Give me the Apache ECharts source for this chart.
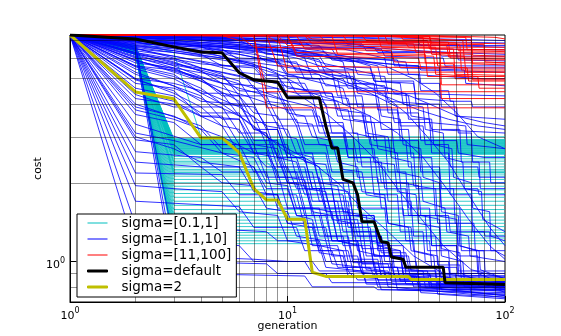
<!DOCTYPE html>
<html>
<head>
<meta charset="utf-8">
<script src="https://cdn.jsdelivr.net/npm/echarts@6/dist/echarts.min.js"></script>
<style>
html, body { margin: 0; padding: 0; background: #fff; }
#chart { width: 561px; height: 336px; }
</style>
</head>
<body>
<div id="chart"></div>
<script>
// Best cost found so far versus generation, one line per optimizer run.
// Every run starts from the same initial cost at generation 1.
const START_COST = 7.35;

const xGridValues = [2, 3, 4, 5, 6, 7, 8, 9, 10, 20, 30, 40, 50, 60, 70, 80, 90];
const yGridValues = [0.8, 0.9, 1, 2, 3, 4, 5, 6, 7];

const NAME_SMALL = 'sigma=[0.1,1]';
const NAME_MID = 'sigma=[1.1,10]';
const NAME_LARGE = 'sigma=[11,100]';
const NAME_DEFAULT = 'sigma=default';
const NAME_TWO = 'sigma=2';

// sigma in [0.1,1]: cost at generation 2, then the plateau reached at generation 3
const smallSigmaDrops = [
  [6.7, 2.93], [6.69, 2.915], [6.68, 2.9], [6.67, 2.885], [6.66, 2.87], [6.65, 2.855],
  [6.64, 2.84], [6.63, 2.825], [6.62, 2.81], [6.61, 2.795], [6.6, 2.78], [6.59, 2.765],
  [6.58, 2.75], [6.57, 2.735], [6.56, 2.72], [6.55, 2.705], [6.54, 2.69], [6.53, 2.675],
  [6.52, 2.66], [6.51, 2.645], [6.5, 2.63], [6.49, 2.615], [6.48, 2.6], [6.47, 2.585],
  [6.46, 2.57], [6.44, 2.52], [6.42, 2.47], [6.4, 2.42], [6.38, 2.36], [6.36, 2.3],
  [6.35, 2.25], [6.34, 2.22], [6.33, 2.19], [6.32, 2.16], [6.3, 2.12], [6.3, 2.06],
  [6.28, 2.0], [6.28, 1.94], [6.26, 1.88], [6.26, 1.82], [6.24, 1.76], [6.24, 1.7],
  [6.22, 1.64], [6.22, 1.58], [6.22, 1.53], [6.2, 1.48], [6.2, 1.44], [6.2, 1.4],
  [6.2, 1.36], [6.2, 1.32], [6.2, 1.29], [6.2, 1.26], [6.2, 1.23], [6.2, 1.2], [6.2, 1.17]
];
// sigma in [0.1,1]: runs with a later step
const smallSigmaRuns = [
  [[2, 6.95], [3, 6.3], [4, 3.0], [100, 3.0]],
  [[2, 6.6], [3, 2.95], [5, 2.95], [6, 2.6], [100, 2.6]],
  [[2, 6.5], [3, 2.4], [8, 2.4], [9, 2.2], [100, 2.2]]
];

// sigma in [1.1,10]
const midSigmaRuns = [
  [[3,7.3],[10,7.25],[30,7.1],[31,6.95],[60,6.9],[100,6.85]],
  [[2,7.2],[5,7.0],[12,6.9],[13,6.6],[25,6.6],[26,6.3],[50,6.3],[51,6.1],[100,6.1]],
  [[2,7.0],[4,6.8],[8,6.5],[15,6.3],[16,5.9],[40,5.6],[41,5.4],[100,5.3]],
  [[2,7.3],[6,7.1],[14,6.7],[15,6.2],[35,5.8],[36,5.2],[80,5.0],[100,5.0]],
  [[2,6.9],[3,6.6],[7,6.3],[8,5.8],[11,5.8],[12,5.0],[18,5.0],[19,4.6],[30,4.6],[31,4.4],[100,4.3]],
  [[4,7.2],[9,6.9],[18,6.5],[28,6.0],[29,5.2],[40,5.2],[41,4.5],[55,4.5],[56,4.1],[70,4.1],[71,3.9],[100,3.9]],
  [[2,7.1],[5,6.5],[6,5.9],[9,5.9],[10,5.2],[14,5.2],[15,4.7],[20,4.7],[21,3.9],[30,3.9],[31,3.4],[45,3.4],[46,3.2],[100,3.1]],
  [[3,7.2],[7,6.8],[13,6.1],[14,5.4],[20,5.4],[21,4.5],[28,4.5],[29,3.7],[40,3.7],[41,2.9],[60,2.9],[61,2.6],[80,2.5],[100,2.5]],
  [[2,6.7],[4,6.2],[5,5.6],[7,5.6],[8,5.0],[10,5.0],[11,4.4],[16,4.4],[17,3.6],[24,3.6],[25,2.9],[35,2.9],[36,2.3],[50,2.3],[51,1.9],[75,1.9],[76,1.8],[100,1.8]],
  [[2,6.4],[3,6.1],[6,5.5],[7,4.6],[9,4.6],[10,3.8],[13,3.8],[14,3.1],[18,3.1],[19,2.5],[26,2.5],[27,2.0],[36,2.0],[37,1.5],[55,1.5],[56,1.3],[80,1.3],[81,1.25],[100,1.25]],
  [[2,6.2],[3,5.9],[5,5.2],[6,4.3],[8,4.3],[9,3.5],[11,3.5],[12,2.8],[15,2.8],[16,2.2],[20,2.2],[21,1.6],[28,1.6],[29,1.2],[38,1.2],[39,0.95],[55,0.95],[56,0.86],[100,0.84]],
  [[2,5.9],[4,5.0],[5,4.3],[6,4.3],[7,3.4],[9,3.4],[10,2.6],[13,2.6],[14,2.0],[18,2.0],[19,1.5],[25,1.5],[26,1.15],[34,1.15],[35,0.92],[48,0.92],[49,0.82],[70,0.82],[71,0.8],[100,0.8]],
  [[2,5.6],[3,5.2],[4,4.4],[5,4.4],[6,3.6],[7,3.6],[8,2.8],[10,2.8],[11,2.1],[14,2.1],[15,1.6],[19,1.6],[20,1.2],[26,1.2],[27,0.95],[36,0.95],[37,0.84],[50,0.84],[51,0.78],[100,0.78]],
  [[2,5.3],[4,4.3],[5,3.5],[6,3.5],[7,2.6],[9,2.6],[10,2.0],[12,2.0],[13,1.5],[17,1.5],[18,1.15],[24,1.15],[25,0.95],[32,0.95],[33,0.85],[45,0.85],[46,0.82],[100,0.82]],
  [[2,4.95],[3,4.5],[4,3.6],[5,3.6],[6,2.8],[8,2.8],[9,2.1],[11,2.1],[12,1.6],[15,1.6],[16,1.2],[21,1.2],[22,0.98],[30,0.98],[31,0.88],[40,0.88],[41,0.86],[100,0.86]],
  [[2,4.6],[3,4.3],[4,3.7],[6,3.7],[7,2.9],[9,2.9],[10,2.2],[13,2.2],[14,1.7],[19,1.7],[20,1.25],[27,1.25],[28,1.0],[39,1.0],[40,0.86],[64,0.86],[65,0.8],[100,0.79]],
  [[2,4.35],[3,3.9],[5,3.9],[6,3.1],[8,3.1],[9,2.3],[12,2.3],[13,1.7],[17,1.7],[18,1.3],[24,1.3],[25,1.05],[34,1.05],[35,0.9],[59,0.9],[60,0.82],[100,0.81]],
  [[2,4.0],[4,3.3],[5,2.7],[8,2.7],[9,2.0],[11,2.0],[12,1.5],[15,1.5],[16,1.2],[21,1.2],[22,0.98],[29,0.98],[30,0.87],[44,0.87],[45,0.8],[100,0.77]],
  [[2,3.65],[3,3.4],[4,2.8],[7,2.8],[8,2.1],[10,2.1],[11,1.6],[14,1.6],[15,1.25],[19,1.25],[20,1.02],[26,1.02],[27,0.88],[39,0.88],[40,0.8],[100,0.74]],
  [[2,3.35],[4,2.8],[6,2.8],[7,2.2],[9,2.2],[10,1.6],[13,1.6],[14,1.25],[18,1.25],[19,1.0],[25,1.0],[26,0.87],[37,0.87],[38,0.8],[69,0.8],[70,0.75],[100,0.75]],
  [[2,2.92],[3,2.8],[4,2.3],[7,2.3],[8,1.8],[11,1.8],[12,1.35],[15,1.35],[16,1.05],[21,1.05],[22,0.9],[34,0.9],[35,0.82],[100,0.8]],
  [[2,2.63],[4,2.5],[5,2.2],[8,2.2],[9,1.6],[12,1.6],[13,1.15],[17,1.15],[18,0.95],[25,0.95],[26,0.85],[49,0.85],[50,0.8],[100,0.79]],
  [[2,2.18],[5,2.15],[6,1.8],[9,1.8],[10,1.4],[13,1.4],[14,1.1],[19,1.1],[20,0.92],[29,0.92],[30,0.84],[100,0.83]],
  [[2,1.7],[6,1.62],[7,1.35],[11,1.35],[12,1.1],[16,1.1],[17,0.95],[24,0.95],[25,0.87],[100,0.85]],
  [[2,1.38],[8,1.3],[9,1.2],[14,1.2],[15,1.0],[21,1.0],[22,0.9],[100,0.88]],
  [[2,1.11],[3,1.05],[7,1.02],[10,1.0],[13,1.0],[14,0.92],[19,0.92],[20,0.88],[100,0.87]],
  [[2,6.6],[3,1.2],[6,1.15],[7,1.0],[12,1.0],[13,0.9],[20,0.9],[21,0.85],[100,0.85]],
  [[2,6.8],[3,1.0],[8,0.98],[9,0.9],[15,0.9],[16,0.83],[30,0.83],[31,0.82],[100,0.82]],
  [[2,6.45],[3,0.9],[12,0.88],[13,0.8],[25,0.8],[26,0.78],[100,0.78]],
  [[2,7.2],[4,7.0],[8,6.6],[12,6.0],[13,5.0],[17,5.0],[18,4.0],[22,4.0],[23,3.0],[28,3.0],[29,2.2],[35,2.2],[36,1.6],[45,1.6],[46,1.15],[60,1.15],[61,0.9],[80,0.9],[81,0.83],[100,0.83]],
  [[3,7.1],[7,6.8],[12,6.4],[18,5.8],[19,4.8],[25,4.8],[26,3.8],[32,3.8],[33,2.9],[40,2.9],[41,2.2],[50,2.2],[51,1.6],[62,1.6],[63,1.1],[80,1.1],[81,0.92],[100,0.92]],
  [[2,7.0],[5,6.6],[10,6.1],[11,5.3],[16,5.3],[17,4.3],[22,4.3],[23,3.4],[30,3.4],[31,2.6],[38,2.6],[39,1.9],[48,1.9],[49,1.4],[60,1.4],[61,1.05],[75,1.05],[76,0.86],[100,0.86]],
  [[2,6.9],[4,6.4],[6,5.8],[9,5.2],[10,4.3],[13,4.3],[14,3.3],[18,3.3],[19,2.5],[24,2.5],[25,1.8],[32,1.8],[33,1.3],[42,1.3],[43,1.0],[55,1.0],[56,0.85],[75,0.85],[76,0.8],[100,0.8]],
  [[2,7.25],[3,7.0],[6,6.7],[10,6.3],[15,5.7],[25,5.2],[26,4.4],[35,4.4],[36,3.5],[45,3.5],[46,2.6],[55,2.6],[56,1.8],[70,1.8],[71,1.3],[85,1.3],[86,1.1],[100,1.1]],
  [[2,6.3],[3,5.8],[5,5.0],[7,4.6],[10,4.1],[11,3.6],[14,3.6],[15,3.0],[20,3.0],[21,2.4],[27,2.4],[28,1.9],[35,1.9],[36,1.5],[45,1.5],[46,1.15],[60,1.15],[61,0.92],[80,0.92],[81,0.85],[100,0.85]],
  [[2,6.0],[4,5.4],[6,4.9],[7,4.0],[8,4.0],[9,3.3],[11,3.3],[12,2.6],[15,2.6],[16,2.0],[19,2.0],[20,1.5],[25,1.5],[26,1.1],[33,1.1],[34,0.9],[45,0.9],[46,0.8],[100,0.78]],
  [[2,5.6],[3,5.4],[5,4.8],[6,4.0],[7,4.0],[8,3.2],[9,3.2],[10,2.5],[12,2.5],[13,1.9],[16,1.9],[17,1.4],[22,1.4],[23,1.05],[30,1.05],[31,0.88],[40,0.88],[41,0.8],[100,0.8]],
  [[2,5.0],[3,4.8],[4,4.5],[6,3.9],[8,3.3],[9,2.5],[11,2.5],[12,2.0],[14,2.0],[15,1.6],[18,1.6],[19,1.2],[24,1.2],[25,0.95],[32,0.95],[33,0.84],[50,0.84],[51,0.82],[100,0.82]],
  [[2,7.3],[5,7.2],[12,7.0],[20,6.8],[30,6.3],[31,5.6],[40,5.6],[41,4.8],[50,4.8],[51,3.9],[60,3.9],[61,3.1],[70,3.1],[71,2.4],[85,2.4],[86,2.0],[100,2.0]],
  [[2,7.15],[4,6.9],[9,6.6],[16,6.1],[26,5.6],[27,4.9],[38,4.9],[39,4.0],[50,4.0],[51,3.2],[62,3.2],[63,2.4],[76,2.4],[77,1.9],[100,1.9]],
  [[2,6.6],[3,6.3],[5,5.9],[8,5.5],[12,5.0],[18,4.6],[19,4.0],[26,4.0],[27,3.2],[36,3.2],[37,2.5],[46,2.5],[47,1.9],[58,1.9],[59,1.4],[72,1.4],[73,1.1],[90,1.1],[100,1.05]],
  [[2,6.2],[3,5.6],[4,5.1],[6,4.6],[9,4.2],[13,3.9],[14,3.4],[18,3.4],[19,2.7],[25,2.7],[26,2.0],[33,2.0],[34,1.5],[43,1.5],[44,1.1],[55,1.1],[56,0.9],[70,0.9],[71,0.83],[100,0.83]],
  [[2,5.9],[3,5.3],[5,4.6],[7,4.2],[10,3.8],[11,3.3],[15,3.3],[16,2.7],[20,2.7],[21,2.1],[26,2.1],[27,1.6],[34,1.6],[35,1.2],[45,1.2],[46,0.95],[60,0.95],[61,0.88],[100,0.88]],
  [[2,7.1],[3,6.9],[5,6.4],[8,5.9],[12,5.4],[17,4.9],[24,4.4],[32,3.9],[33,3.3],[42,3.3],[43,2.8],[55,2.8],[56,2.3],[75,2.3],[76,2.1],[100,2.1]],
  [[2,6.85],[4,6.6],[7,6.2],[11,5.7],[16,5.1],[22,4.6],[30,4.2],[40,3.8],[55,3.5],[75,3.3],[100,3.2]],
  [[2,4.2],[3,4.0],[5,3.3],[6,2.6],[8,2.6],[9,2.2],[11,2.2],[12,1.8],[15,1.8],[16,1.5],[20,1.5],[21,1.25],[27,1.25],[28,1.05],[36,1.05],[37,0.92],[50,0.92],[51,0.86],[100,0.86]],
  [[2,3.8],[3,3.5],[5,3.0],[7,2.6],[8,2.3],[10,2.3],[11,1.9],[14,1.9],[15,1.55],[19,1.55],[20,1.3],[26,1.3],[27,1.08],[35,1.08],[36,0.95],[50,0.95],[51,0.9],[100,0.9]],
  [[2,3.1],[3,2.9],[5,2.6],[7,2.3],[8,1.9],[10,1.9],[11,1.5],[14,1.5],[15,1.2],[19,1.2],[20,0.99],[26,0.99],[27,0.88],[38,0.88],[39,0.84],[100,0.84]],
  [[2,7.3],[3,7.25],[6,7.15],[12,7.05],[25,6.9],[50,6.7],[100,6.6]],
  [[2,7.25],[4,7.15],[8,7.0],[15,6.8],[30,6.5],[55,6.3],[100,6.2]],
  [[2,6.95],[3,6.8],[6,6.5],[12,6.2],[20,5.9],[35,5.6],[60,5.5],[100,5.5]],
  [[2,6.5],[3,6.3],[5,6.0],[9,5.6],[14,5.3],[22,4.9],[32,4.5],[45,4.0],[60,3.6],[80,3.4],[100,3.3]],
  [[2,5.75],[3,5.5],[4,4.9],[6,4.1],[7,3.2],[9,3.2],[10,2.5],[12,2.5],[13,1.9],[16,1.9],[17,1.45],[21,1.45],[22,1.12],[29,1.12],[30,0.92],[44,0.92],[45,0.82],[100,0.8]],
  [[2,5.45],[3,5.0],[5,4.0],[7,3.3],[10,2.6],[14,2.3],[15,1.8],[18,1.8],[19,1.35],[24,1.35],[25,1.05],[33,1.05],[34,0.9],[45,0.9],[46,0.84],[100,0.84]],
  [[2,6.7],[3,6.5],[5,6.1],[8,5.5],[11,4.8],[15,4.0],[16,3.1],[21,3.1],[22,2.3],[28,2.3],[29,1.7],[37,1.7],[38,1.25],[48,1.25],[49,0.97],[62,0.97],[63,0.86],[80,0.86],[81,0.82],[100,0.82]],
  [[2,7.05],[4,6.75],[7,6.4],[11,6.0],[15,5.5],[20,5.0],[27,4.4],[35,3.7],[44,3.0],[55,2.4],[68,1.8],[85,1.35],[100,1.15]],
  [[2,6.55],[3,6.0],[4,5.5],[6,5.1],[8,4.7],[11,4.4],[15,3.7],[20,3.0],[26,2.4],[32,1.9],[40,1.5],[52,1.15],[70,0.93],[100,0.86]],
  [[2,4.8],[3,4.6],[4,4.2],[6,3.6],[8,3.0],[10,2.7],[13,2.4],[17,2.0],[22,1.6],[29,1.3],[38,1.05],[52,0.9],[100,0.83]],
  [[2,7.2],[3,7.1],[5,6.95],[9,6.7],[14,6.4],[20,6.0],[28,5.6],[38,5.0],[48,4.4],[60,3.7],[75,3.0],[100,2.7]],
  [[2,6.1],[3,5.7],[5,5.3],[8,4.9],[12,4.5],[17,4.1],[24,3.6],[32,3.1],[42,2.5],[54,1.9],[68,1.45],[85,1.15],[100,1.02]],
  [[2,7.3],[8,7.25],[20,7.2],[50,7.1],[100,7.0]],
  [[3,7.28],[10,7.2],[18,7.0],[19,6.75],[45,6.7],[46,6.5],[100,6.45]],
  [[2,7.15],[5,7.05],[9,6.85],[22,6.8],[23,6.4],[60,6.3],[61,5.9],[100,5.85]],
  [[2,7.25],[6,7.0],[7,6.6],[16,6.5],[17,6.0],[32,5.9],[33,5.5],[65,5.4],[66,4.8],[100,4.7]],
  [[2,7.0],[3,6.75],[7,6.6],[8,6.2],[14,6.1],[15,5.6],[24,5.5],[25,4.9],[38,4.8],[39,4.2],[58,4.1],[59,3.6],[100,3.5]],
  [[2,6.8],[4,6.6],[6,6.0],[10,5.9],[11,5.4],[19,5.3],[20,4.8],[28,4.7],[29,4.1],[44,4.0],[45,3.4],[66,3.3],[67,2.8],[100,2.7]],
  [[3,7.2],[5,7.1],[11,6.95],[12,6.6],[27,6.5],[28,6.1],[52,6.0],[53,5.6],[100,5.6]],
  [[2,7.28],[4,7.2],[9,7.1],[16,7.0],[40,6.9],[41,6.7],[100,6.7]],
  [[2,6.3],[3,5.95],[4,5.7],[7,5.5],[8,4.9],[12,4.8],[13,4.2],[17,4.1],[18,3.5],[23,3.4],[24,2.8],[31,2.7],[32,2.2],[41,2.1],[42,1.7],[53,1.6],[54,1.3],[68,1.25],[69,1.05],[100,1.0]],
  [[2,6.05],[3,5.5],[5,5.1],[6,4.5],[9,4.4],[10,3.7],[12,3.6],[13,3.0],[16,2.9],[17,2.4],[21,2.3],[22,1.85],[28,1.8],[29,1.4],[37,1.35],[38,1.1],[49,1.05],[50,0.88],[100,0.8]],
  [[2,5.55],[3,5.1],[4,4.6],[5,4.0],[7,3.9],[8,3.3],[10,3.2],[11,2.6],[13,2.5],[14,2.0],[17,1.95],[18,1.55],[23,1.5],[24,1.2],[30,1.15],[31,0.95],[42,0.92],[43,0.8],[100,0.74]],
  [[2,5.2],[3,4.7],[4,4.1],[6,4.0],[7,3.2],[8,3.1],[9,2.5],[11,2.4],[12,1.9],[15,1.85],[16,1.45],[20,1.4],[21,1.1],[27,1.05],[28,0.88],[40,0.86],[41,0.76],[100,0.73]],
  [[2,6.75],[3,6.55],[6,6.2],[9,5.8],[10,5.1],[14,5.0],[15,4.3],[19,4.2],[20,3.5],[25,3.4],[26,2.7],[32,2.6],[33,2.0],[40,1.95],[41,1.5],[50,1.45],[51,1.12],[62,1.08],[63,0.9],[100,0.76]],
  [[2,7.1],[3,6.95],[6,6.6],[10,6.3],[14,5.9],[15,5.2],[20,5.1],[21,4.4],[26,4.3],[27,3.6],[33,3.5],[34,2.8],[41,2.7],[42,2.1],[50,2.0],[51,1.55],[61,1.5],[62,1.15],[74,1.1],[75,0.9],[100,0.82]],
  [[2,6.95],[4,6.7],[7,6.5],[12,6.3],[18,6.0],[24,5.6],[25,4.9],[33,4.8],[34,4.0],[42,3.9],[43,3.2],[52,3.1],[53,2.5],[64,2.4],[65,1.9],[78,1.85],[79,1.45],[100,1.3]],
  [[2,6.5],[3,6.1],[4,5.8],[6,5.3],[9,5.1],[10,4.6],[14,4.5],[15,3.9],[19,3.8],[20,3.1],[24,3.0],[25,2.4],[31,2.35],[32,1.85],[39,1.8],[40,1.4],[50,1.35],[51,1.05],[64,1.0],[65,0.85],[100,0.78]],
  [[2,4.45],[3,4.1],[4,3.6],[6,3.5],[7,2.8],[9,2.7],[10,2.1],[12,2.05],[13,1.6],[16,1.55],[17,1.2],[22,1.15],[23,0.93],[31,0.9],[32,0.78],[100,0.75]],
  [[2,3.9],[3,3.6],[4,3.2],[5,2.6],[7,2.5],[8,2.0],[10,1.95],[11,1.5],[13,1.45],[14,1.15],[18,1.1],[19,0.92],[25,0.9],[26,0.8],[100,0.77]],
  [[2,3.0],[3,2.7],[4,2.4],[6,2.3],[7,1.85],[9,1.8],[10,1.4],[13,1.35],[14,1.08],[18,1.05],[19,0.88],[26,0.86],[27,0.78],[100,0.76]],
  [[2,2.4],[4,2.3],[5,2.0],[7,1.95],[8,1.6],[10,1.55],[11,1.25],[15,1.2],[16,0.98],[22,0.95],[23,0.83],[100,0.81]],
  [[2,1.95],[3,1.9],[5,1.85],[6,1.55],[9,1.5],[10,1.2],[14,1.15],[15,0.95],[22,0.92],[23,0.82],[100,0.8]],
  [[2,7.2],[3,7.0],[5,6.8],[8,6.5],[13,6.2],[20,5.8],[21,5.2],[28,5.1],[29,4.4],[36,4.3],[37,3.6],[46,3.5],[47,2.8],[57,2.7],[58,2.1],[70,2.0],[71,1.6],[85,1.55],[86,1.25],[100,1.2]],
  [[2,6.65],[3,6.4],[5,6.0],[7,5.7],[8,5.2],[11,5.1],[12,4.5],[16,4.4],[17,3.8],[22,3.7],[23,3.1],[29,3.0],[30,2.5],[37,2.4],[38,1.95],[47,1.9],[48,1.5],[60,1.45],[61,1.15],[76,1.1],[77,0.93],[100,0.86]],
  [[2,6.25],[3,5.75],[4,5.35],[5,4.8],[7,4.7],[8,4.1],[10,4.0],[11,3.4],[13,3.35],[14,2.8],[17,2.75],[18,2.25],[22,2.2],[23,1.8],[28,1.75],[29,1.4],[36,1.35],[37,1.1],[47,1.05],[48,0.88],[100,0.8]],
  [[2,5.85],[3,5.45],[4,5.0],[5,4.4],[6,4.3],[7,3.7],[9,3.6],[10,3.0],[11,2.95],[12,2.4],[15,2.35],[16,1.9],[19,1.85],[20,1.5],[25,1.45],[26,1.15],[33,1.1],[34,0.9],[48,0.88],[49,0.75],[100,0.72]],
  [[2,5.0],[3,4.4],[4,3.9],[5,3.3],[6,3.2],[7,2.6],[9,2.5],[10,2.0],[12,1.95],[13,1.55],[16,1.5],[17,1.2],[21,1.15],[22,0.95],[28,0.92],[29,0.8],[100,0.73]]
];

// sigma in [11,100]
const largeSigmaRuns = [
  [[7,7.3],[8,4.46],[100,4.46]],
  [[7,7.28],[8,3.87],[100,3.87]],
  [[9,7.3],[10,5.3],[100,5.3]],
  [[10,7.3],[11,6.1],[40,6.0],[41,5.5],[100,5.5]],
  [[6,7.3],[7,6.6],[30,6.5],[50,6.3],[51,6.27],[100,6.27]],
  [[12,7.3],[13,6.8],[54,6.7],[55,6.06],[100,6.06]],
  [[20,7.3],[42,7.2],[43,5.75],[100,5.75]],
  [[30,7.3],[50,7.1],[51,4.74],[100,4.74]],
  [[25,7.3],[64,7.0],[65,5.9],[100,5.9]],
  [[15,7.3],[66,7.2],[67,6.45],[100,6.45]],
  [[8,7.3],[9,6.9],[35,6.85],[36,6.6],[100,6.6]],
  [[40,7.3],[70,7.2],[71,4.95],[100,4.95]],
  [[35,7.32],[45,7.25],[46,6.2],[65,6.1],[66,5.3],[100,5.3]],
  [[50,7.3],[90,7.2],[100,7.1]],
  [[5,7.32],[6,7.0],[20,6.95],[40,6.9],[100,6.8]],
  [[10,7.32],[11,6.3],[43,6.2],[44,5.1],[100,5.1]],
  [[9,7.33],[10,6.7],[48,6.6],[49,5.6],[67,5.5],[68,4.9],[100,4.9]],
  [[18,7.3],[19,6.9],[60,6.85],[61,6.4],[100,6.35]],
  [[11,7.3],[12,6.5],[30,6.4],[31,5.8],[58,5.7],[59,5.2],[100,5.15]],
  [[14,7.32],[15,6.9],[38,6.8],[39,6.3],[70,6.2],[71,5.7],[100,5.65]],
  [[22,7.3],[23,7.0],[55,6.9],[56,6.0],[100,5.95]],
  [[28,7.32],[29,6.8],[62,6.75],[63,5.4],[100,5.4]],
  [[12,7.33],[13,7.1],[44,7.0],[45,6.5],[100,6.45]],
  [[16,7.3],[17,6.2],[47,6.1],[48,5.2],[75,5.1],[76,4.6],[100,4.6]],
  [[33,7.33],[34,7.05],[70,7.0],[71,6.15],[100,6.1]],
  [[45,7.3],[46,6.8],[80,6.75],[81,5.8],[100,5.75]],
  [[26,7.32],[27,6.6],[58,6.5],[59,5.0],[100,5.0]],
  [[8,7.32],[9,5.6],[50,5.5],[51,4.2],[100,4.2]]
];

const defaultSigmaRun = [
  [2,7.1],[3,6.62],[4,6.33],[5,6.28],[6,5.27],[7,4.95],[9,4.86],[10,4.23],[14,4.23],
  [15,3.3],[16,2.72],[17,2.72],[18,2.06],[19,2.03],[20,2.0],[21,1.8],[22,1.42],[25,1.42],
  [27,1.19],[29,1.18],[30,1.04],[34,1.02],[35,0.95],[52,0.95],[53,0.83],[54,0.817],[100,0.817]
];

const sigmaTwoRun = [
  [2,4.45],[3,4.19],[4,2.97],[5,2.97],[6,2.61],[7,1.9],[8,1.72],[9,1.72],[10,1.45],[12,1.45],
  [13,0.91],[15,0.877],[36,0.877],[37,0.854],[100,0.854]
];

const FONT = 'DejaVu Sans';

function runSeries(name, pts, color, width) {
  return {
    type: 'line',
    name: name,
    data: [[1, START_COST]].concat(pts),
    showSymbol: false,
    symbol: 'none',
    silent: true,
    animation: false,
    lineStyle: { color: color, width: width },
    itemStyle: { color: color },
    emphasis: { disabled: true },
    z: 2
  };
}

const series = [];
smallSigmaDrops.forEach(function (d) {
  series.push(runSeries(NAME_SMALL, [[2, d[0]], [3, d[1]], [100, d[1]]], 'rgba(0,191,191,0.8)', 1));
});
smallSigmaRuns.forEach(function (r) {
  series.push(runSeries(NAME_SMALL, r, 'rgba(0,191,191,0.8)', 1));
});
midSigmaRuns.forEach(function (r) {
  series.push(runSeries(NAME_MID, r, 'rgba(0,0,255,0.8)', 1));
});
largeSigmaRuns.forEach(function (r) {
  series.push(runSeries(NAME_LARGE, r, 'rgba(255,0,0,0.9)', 1));
});
series.push(runSeries(NAME_TWO, sigmaTwoRun, '#bfbf00', 3));
series.push(runSeries(NAME_DEFAULT, defaultSigmaRun, '#000000', 3));

// grid lines at every decade subdivision, drawn over the runs
series.push({
  type: 'line',
  name: 'grid',
  data: [],
  silent: true,
  animation: false,
  z: 6,
  markLine: {
    silent: true,
    animation: false,
    symbol: ['none', 'none'],
    label: { show: false },
    lineStyle: { color: '#000', width: 1, type: 'solid', opacity: 0.42 },
    emphasis: { disabled: true },
    data: xGridValues.map(function (v) { return { xAxis: v }; })
      .concat(yGridValues.map(function (v) { return { yAxis: v }; }))
  }
});

function powerLabel(v) {
  const e = Math.log10(v);
  const r = Math.round(e);
  if (Math.abs(e - r) > 1e-6) return '';
  return '{b|10}{s|' + r + '}';
}
const labelRich = {
  b: { fontSize: 11, fontFamily: FONT, color: '#000', lineHeight: 18, padding: [8, 0, 0, 0] },
  s: { fontSize: 8, fontFamily: FONT, color: '#000', lineHeight: 10, verticalAlign: 'top', padding: [4, 0, 0, 0] }
};

const chart = echarts.init(document.getElementById('chart'), null, { renderer: 'canvas' });
chart.setOption({
  animation: false,
  backgroundColor: '#fff',
  grid: {
    left: 70, right: 56, top: 35, bottom: 34,
    outerBoundsMode: 'none', containLabel: false,
    show: true, borderColor: '#000', borderWidth: 1, backgroundColor: '#fff'
  },
  xAxis: {
    type: 'log', logBase: 10, min: 1, max: 100,
    name: 'generation', nameLocation: 'middle', nameGap: 19, nameMoveOverlap: false,
    nameTextStyle: { fontSize: 11, fontFamily: FONT, color: '#000' },
    axisLine: { show: true, lineStyle: { color: '#000', width: 1 } },
    axisTick: { show: true, inside: true, length: 6, lineStyle: { color: '#000' } },
    splitLine: { show: false },
    axisLabel: { formatter: powerLabel, rich: labelRich, margin: 1 }
  },
  yAxis: {
    type: 'log', logBase: 10, min: 0.7, max: START_COST,
    name: 'cost', nameLocation: 'middle', nameGap: 26, nameRotate: 90, nameMoveOverlap: false,
    nameTextStyle: { fontSize: 11, fontFamily: FONT, color: '#000' },
    axisLine: { show: true, lineStyle: { color: '#000', width: 1 } },
    axisTick: { show: true, inside: true, length: 6, lineStyle: { color: '#000' } },
    splitLine: { show: false },
    axisLabel: { formatter: powerLabel, rich: labelRich, margin: 5 }
  },
  legend: {
    orient: 'vertical', left: 77, top: 214,
    selectedMode: false,
    itemWidth: 20, itemHeight: 2, itemGap: 2,
    padding: [2, 5, 3, 10],
    backgroundColor: '#fff', borderColor: '#000', borderWidth: 1, borderRadius: 0,
    textStyle: { fontSize: 13.5, fontFamily: FONT, color: '#000', lineHeight: 14, padding: [0, 0, 0, 9] },
    z: 20,
    data: [
      { name: NAME_SMALL, icon: 'rect', itemStyle: { color: 'rgba(0,191,191,0.5)' } },
      { name: NAME_MID, icon: 'rect', itemStyle: { color: 'rgba(0,0,255,0.5)' } },
      { name: NAME_LARGE, icon: 'rect', itemStyle: { color: 'rgba(255,0,0,0.5)' } },
      { name: NAME_DEFAULT, icon: 'rect', itemStyle: { color: '#000', borderColor: '#000', borderWidth: 1 } },
      { name: NAME_TWO, icon: 'rect', itemStyle: { color: '#bfbf00', borderColor: '#bfbf00', borderWidth: 1 } }
    ]
  },
  series: series
});
</script>
</body>
</html>
